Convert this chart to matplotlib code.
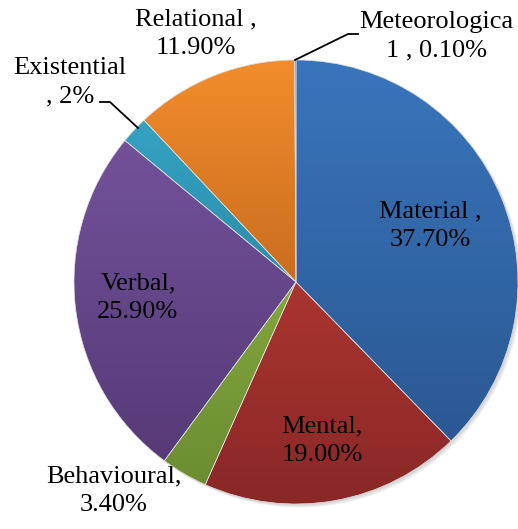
import numpy as np
import matplotlib.pyplot as plt
from matplotlib.colors import LinearSegmentedColormap

labels = ["Material", "Mental", "Behavioural", "Verbal", "Existential", "Relational", "Meteorological"]
values = [37.7, 19.0, 3.4, 25.9, 2.0, 11.9, 0.1]
label_texts = ["Material ,\n37.70%", "Mental,\n19.00%", "Behavioural,\n3.40%", "Verbal,\n25.90%",
               "Existential\n, 2%", "Relational ,\n11.90%", "Meteorologica\n1 , 0.10%"]

# gradient colours (top, bottom) like the Excel style
top_colors = ["#3975BC", "#CC413C", "#9CC24B", "#7A57A3", "#38AACC", "#F28D2C", "#3975BC"]
bot_colors = ["#29538C", "#892826", "#6A8A30", "#513772", "#1F6F85", "#A04C10", "#29538C"]

plt.rcParams["font.family"] = ["Liberation Serif", "DejaVu Serif"]

W, H = 518, 529
fig = plt.figure(figsize=(W / 100, H / 100), dpi=100)
ax = fig.add_axes([0, 0, 1, 1])
ax.set_xlim(0, W)
ax.set_ylim(0, H)
ax.axis("off")

cx, cy, r = 296, H - 282, 222

# soft shadow
for k, a in enumerate([0.05, 0.05, 0.06]):
    ax.add_patch(plt.Circle((cx + 1.5 + k, cy - 1.5 - k), r, color="black", alpha=a, lw=0, zorder=0))
ax.add_patch(plt.Circle((cx, cy), r, color="white", lw=0, zorder=0.5))

wedges, _ = ax.pie(values, startangle=90, counterclock=False, center=(cx, cy), radius=r,
                   colors=top_colors, wedgeprops=dict(linewidth=0.5, edgecolor="#dcdcdc"))
grad = np.linspace(0, 1, 256).reshape(-1, 1)
for w, c_top, c_bot in zip(wedges, top_colors, bot_colors):
    cmap = LinearSegmentedColormap.from_list("g", [c_bot, c_top])
    im = ax.imshow(grad, cmap=cmap, origin="lower", aspect="auto",
                   extent=[cx - r, cx + r, cy - r, cy + r], zorder=1)
    im.set_clip_path(w)
    w.set_facecolor("none")
    w.set_zorder(2)

ax.set_xlim(0, W)
ax.set_ylim(0, H)

fs = 19
# label anchor points in pixel space (x, y from top)
label_pos = [(430, 226), (322, 441), (114, 491), (138, 298), (70, 82), (196, 34), (436, 36)]
for txt, (x, y) in zip(label_texts, label_pos):
    ax.text(x, H - y, txt, ha="center", va="center", fontsize=fs, linespacing=1.38,
            color="black", zorder=5)

# leader lines
ax.plot([100, 110, 138], [H - 102, H - 102, H - 128], color="black", lw=1.3, zorder=4)
ax.plot([295, 348, 358], [H - 60, H - 34, H - 34], color="black", lw=1.3, zorder=4)

fig.savefig("out.png", dpi=100)
